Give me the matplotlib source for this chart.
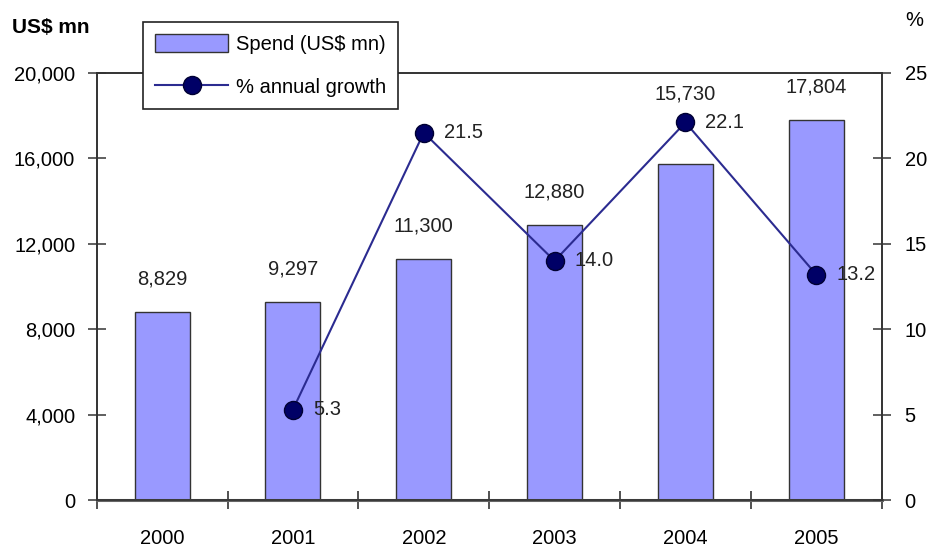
import matplotlib.pyplot as plt
import numpy as np

plt.rcParams['font.family'] = ['Liberation Sans', 'DejaVu Sans']

years = ['2000', '2001', '2002', '2003', '2004', '2005']
spend = [8829, 9297, 11300, 12880, 15730, 17804]
growth = [np.nan, 5.3, 21.5, 14.0, 22.1, 13.2]
spend_labels = ['8,829', '9,297', '11,300', '12,880', '15,730', '17,804']
growth_labels = ['', '5.3', '21.5', '14.0', '22.1', '13.2']

x = np.arange(len(years))

fig = plt.figure(figsize=(9.3, 5.52), dpi=100)
ax = fig.add_axes([0.104, 0.094, 0.844, 0.774])
ax2 = ax.twinx()

# bars on the left axis
bars = ax.bar(x, spend, width=0.42, color='#9999ff', edgecolor='#333333',
              linewidth=1.0, label='Spend (US$ mn)', zorder=2)
ax.set_xlim(-0.5, 5.5)
ax.set_ylim(0, 20000)
ax.set_yticks(np.arange(0, 20001, 4000))
ax.set_yticklabels(['{:,}'.format(v) for v in range(0, 20001, 4000)])

# growth line on the right axis
line, = ax2.plot(x, growth, color='#2b2b90', linewidth=1.5, marker='o',
                 markersize=13, markerfacecolor='#000066',
                 markeredgecolor='#000033', label='% annual growth', zorder=3)
ax2.set_ylim(0, 25)
ax2.set_yticks(np.arange(0, 26, 5))

# value labels above bars (2004 pushed up over the marker)
for i, (v, s) in enumerate(zip(spend, spend_labels)):
    dy = 70 if i == 4 else 33
    ax.annotate(s, (x[i], v), xytext=(0, dy), textcoords='offset pixels',
                ha='center', va='center', fontsize=14.5, color='#222222')

for i, (g, s) in enumerate(zip(growth, growth_labels)):
    if s:
        ax2.annotate(s, (x[i], g), xytext=(20, 0), textcoords='offset pixels',
                     ha='left', va='center', fontsize=14.5, color='#222222')

# x ticks sit between the categories
ax.set_xticks(x)
ax.set_xticklabels(years)
ax.set_xticks(np.arange(-0.5, 6, 1), minor=True)
ax.tick_params(axis='x', which='major', length=0, pad=21, labelsize=14.5)
ax.tick_params(axis='x', which='minor', direction='inout', length=13,
               width=1.2, color='#333333')
ax.tick_params(axis='y', direction='inout', length=13, width=1.2,
               color='#444444', pad=9, labelsize=14.5)
ax2.tick_params(axis='y', direction='inout', length=13, width=1.2,
                color='#444444', pad=10, labelsize=14.5)

for a in (ax, ax2):
    for sp in a.spines.values():
        sp.set_color('#333333')
        sp.set_linewidth(1.2)
ax.spines['bottom'].set_color('#666666')
ax.spines['bottom'].set_linewidth(2.2)

fig.text(0.013, 0.95, 'US$ mn', fontsize=15, fontweight='bold', ha='left', va='center')
fig.text(0.973, 0.962, '%', fontsize=14.5, ha='left', va='center')

leg = fig.legend([bars, line], ['Spend (US$ mn)', '% annual growth'],
                 loc='upper left', bbox_to_anchor=(0.154, 0.96),
                 borderaxespad=0, fancybox=False, edgecolor='#222222',
                 framealpha=1, fontsize=14.5, handlelength=3.6, handleheight=1.0,
                 borderpad=0.6, labelspacing=1.15, handletextpad=0.4)
leg.get_frame().set_linewidth(1.2)

fig.savefig('out.png', dpi=100)
